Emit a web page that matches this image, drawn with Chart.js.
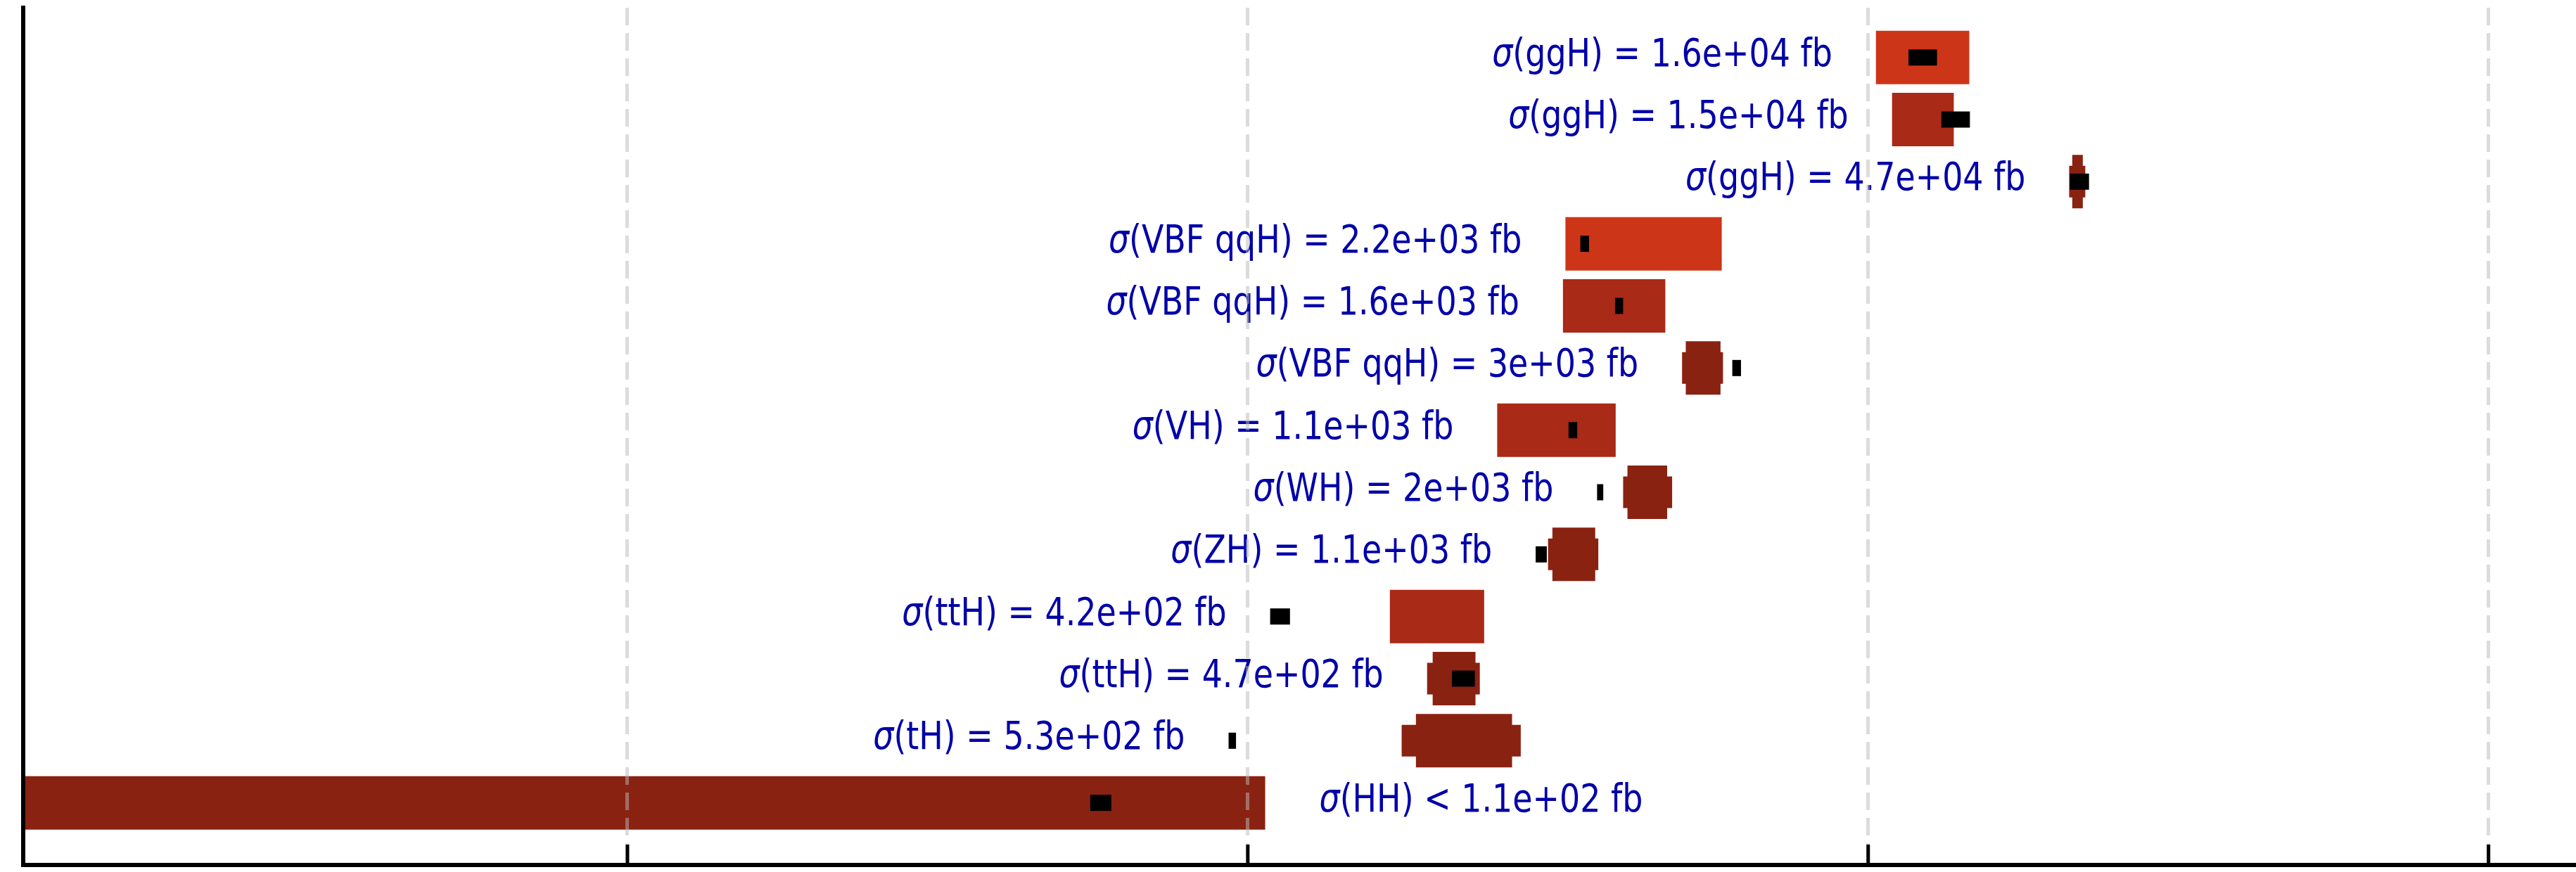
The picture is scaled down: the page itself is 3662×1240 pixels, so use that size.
<!DOCTYPE html>
<html>
<head>
<meta charset="utf-8">
<script src="https://cdn.jsdelivr.net/npm/chart.js@4/dist/chart.umd.min.js"></script>
<style>
    html, body { margin: 0; padding: 0; background: #ffffff; }
    #wrap { width: 3662px; height: 1240px; position: relative; }
</style>
</head>
<body>
<div id="wrap"><canvas id="xsecChart"></canvas></div>
<script>
// Nhãn của từng hàng (từ trên xuống dưới)
const labels = [
    'σ(ggH) = 1.6e+04 fb',
    'σ(ggH) = 1.5e+04 fb',
    'σ(ggH) = 4.7e+04 fb',
    'σ(VBF qqH) = 2.2e+03 fb',
    'σ(VBF qqH) = 1.6e+03 fb',
    'σ(VBF qqH) = 3e+03 fb',
    'σ(VH) = 1.1e+03 fb',
    'σ(WH) = 2e+03 fb',
    'σ(ZH) = 1.1e+03 fb',
    'σ(ttH) = 4.2e+02 fb',
    'σ(ttH) = 4.7e+02 fb',
    'σ(tH) = 5.3e+02 fb',
    'σ(HH) < 1.1e+02 fb'
];

// Vị trí hàng trên trục y
const rowY = [13, 12, 11, 10, 9, 8, 7, 6, 5, 4, 3, 2, 1];

// Loại hàng -> màu (0: sáng, 1: trung bình, 2: đậm)
const rowKind = [0, 1, 2, 0, 1, 2, 1, 2, 2, 1, 2, 2, 2];

// Thanh chính
const barLo = [3.0125, 3.0385, 3.329, 2.512, 2.508, 2.706, 2.402, 2.612, 2.491, 2.229, 2.298, 2.271, 0.026];
const barHi = [3.163, 3.138, 3.346, 2.764, 2.673, 2.762, 2.593, 2.676, 2.560, 2.381, 2.367, 2.426, 2.028];

// Phần rộng (thấp hơn) của các hàng dạng "tròn"
const wideLo = [null, null, 3.324, null, null, 2.700, null, 2.605, 2.484, null, 2.289, 2.248, null];
const wideHi = [null, null, 3.350, null, null, 2.766, null, 2.684, 2.565, null, 2.374, 2.440, null];

// Dấu đen
const markLo = [3.065, 3.118, 3.325, 2.536, 2.592, 2.781, 2.517, 2.563, 2.464, 2.036, 2.329, 1.969, 1.746];
const markHi = [3.111, 3.164, 3.356, 2.550, 2.605, 2.795, 2.531, 2.573, 2.482, 2.068, 2.366, 1.981, 1.780];

// Nhãn nằm bên trái hay bên phải thanh
const labelSide = ['left', 'left', 'left', 'left', 'left', 'left', 'left', 'left', 'left', 'left', 'left', 'left', 'right'];

// Trục x
const xTicks = [1, 2, 3, 4];
const xMin = 0.026;
const xMax = 4.141;
const yMin = 0;
const yMax = 13.8;

const kindColors = ['#cd3519', '#a92a16', '#8a2212'];

// Tạo dữ liệu cho thanh nổi, bỏ qua giá trị null
function floating(lo, hi) {
    const out = [];
    lo.forEach((v, i) => {
        if (v === null || hi[i] === null) return;
        out.push({ y: rowY[i], x: [v, hi[i]], kind: rowKind[i] });
    });
    return out;
}

// Plugin vẽ nhãn chữ
const labelPlugin = {
    id: 'rowLabels',
    afterDatasetsDraw(chart) {
        const { ctx, scales: { x, y } } = chart;
        const size = 56;
        const sx = 0.82;
        ctx.save();
        ctx.fillStyle = '#0000a8';
        ctx.textBaseline = 'alphabetic';
        ctx.textAlign = 'left';
        labels.forEach((text, i) => {
            const sigma = text.charAt(0);
            const rest = text.slice(1);
            ctx.font = `italic ${size}px "DejaVu Sans"`;
            const wS = ctx.measureText(sigma).width;
            ctx.font = `${size}px "DejaVu Sans"`;
            const wR = ctx.measureText(rest).width;
            const total = wS + wR;

            const base = y.getPixelForValue(rowY[i]) + 12;
            let start;
            if (labelSide[i] === 'left') {
                const lo = Math.min(barLo[i], markLo[i], wideLo[i] === null ? Infinity : wideLo[i]);
                start = x.getPixelForValue(lo) - 62 - total * sx;
            } else {
                const hi = Math.max(barHi[i], markHi[i]);
                start = x.getPixelForValue(hi) + 77;
            }
            ctx.save();
            ctx.translate(start, base);
            ctx.scale(sx, 1);
            ctx.font = `italic ${size}px "DejaVu Sans"`;
            ctx.fillText(sigma, 0, 0);
            ctx.font = `${size}px "DejaVu Sans"`;
            ctx.fillText(rest, wS, 0);
            ctx.restore();
        });
        ctx.restore();
    }
};

// Plugin vẽ vạch chia hướng vào trong ở trục dưới
const innerTicks = {
    id: 'innerTicks',
    afterDraw(chart) {
        const { ctx, chartArea, scales: { x } } = chart;
        ctx.save();
        ctx.strokeStyle = '#000000';
        ctx.lineWidth = 5;
        xTicks.forEach(v => {
            const px = x.getPixelForValue(v);
            ctx.beginPath();
            ctx.moveTo(px, chartArea.bottom - 29);
            ctx.lineTo(px, chartArea.bottom);
            ctx.stroke();
        });
        ctx.restore();
    }
};

const commonBar = {
    grouped: false,
    borderWidth: 0,
    borderSkipped: false,
    inflateAmount: 0,
    barPercentage: 1,
    categoryPercentage: 1
};

const ctx = document.getElementById('xsecChart').getContext('2d');
new Chart(ctx, {
    type: 'bar',
    data: {
        datasets: [
            {
                ...commonBar,
                label: 'marker',
                data: floating(markLo, markHi),
                backgroundColor: '#000000',
                maxBarThickness: 23,
                order: 0
            },
            {
                ...commonBar,
                label: 'bar',
                data: floating(barLo, barHi),
                backgroundColor: c => kindColors[c.raw ? c.raw.kind : 0],
                maxBarThickness: 76,
                order: 1
            },
            {
                ...commonBar,
                label: 'wide',
                data: floating(wideLo, wideHi),
                backgroundColor: c => kindColors[c.raw ? c.raw.kind : 2],
                maxBarThickness: 45,
                order: 2
            }
        ]
    },
    options: {
        indexAxis: 'y',
        responsive: true,
        maintainAspectRatio: false,
        animation: false,
        devicePixelRatio: 1,
        layout: { padding: { left: 33, right: 0, top: 11, bottom: 10 } },
        plugins: {
            legend: { display: false },
            tooltip: { enabled: false }
        },
        scales: {
            x: {
                type: 'linear',
                min: xMin,
                max: xMax,
                offset: false,
                afterBuildTicks: scale => {
                    scale.ticks = xTicks.map(v => ({ value: v }));
                },
                ticks: { display: false },
                grid: {
                    display: true,
                    drawTicks: false,
                    color: 'rgba(185, 185, 185, 0.5)',
                    lineWidth: 5,
                    z: 1
                },
                border: {
                    display: true,
                    color: '#000000',
                    width: 6,
                    dash: [25, 11],
                    z: 2
                }
            },
            y: {
                type: 'linear',
                min: yMin,
                max: yMax,
                offset: false,
                ticks: { display: false },
                grid: { display: false, drawTicks: false, offset: false },
                border: {
                    display: true,
                    color: '#000000',
                    width: 6,
                    z: 2
                }
            }
        }
    },
    plugins: [labelPlugin, innerTicks]
});
</script>
</body>
</html>
